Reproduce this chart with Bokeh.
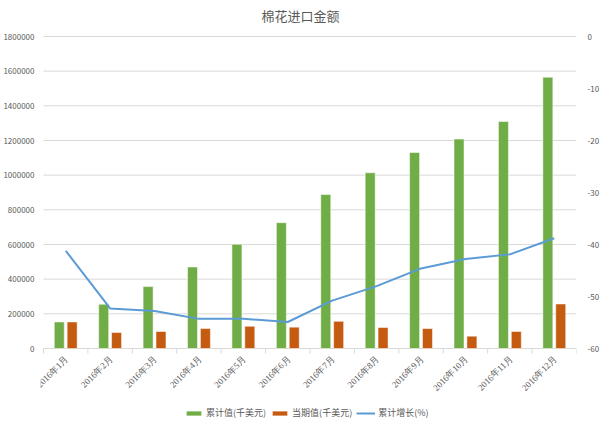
import numpy as np
from bokeh.plotting import figure
from bokeh.models import (Range1d, LinearAxis, FixedTicker, Legend, LegendItem,
                          ColumnDataSource, BasicTickFormatter, LabelSet, Label)
from bokeh.transform import dodge
from bokeh.embed import file_html
from bokeh.resources import INLINE

title = "棉花进口金额"
months = ["2016年1月", "2016年2月", "2016年3月", "2016年4月", "2016年5月", "2016年6月",
          "2016年7月", "2016年8月", "2016年9月", "2016年10月", "2016年11月", "2016年12月"]
cumulative = [153000, 255000, 357000, 470000, 601000, 726000,
              888000, 1014000, 1131000, 1208000, 1310000, 1565000]
current = [153000, 92000, 98000, 115000, 128000, 123000,
           157000, 121000, 115000, 71000, 98000, 257000]
growth = [-41.2, -52.3, -52.8, -54.3, -54.3, -54.9,
          -50.8, -48.0, -44.6, -42.8, -41.9, -38.8]

left_ticks = [0, 200000, 400000, 600000, 800000, 1000000, 1200000, 1400000, 1600000, 1800000]
right_ticks = [0, -10, -20, -30, -40, -50, -60]

FONT = "Noto Sans CJK SC"
GREY = "#595959"
LINE = "#d9d9d9"

# layout (pixels)
LEFT_W = 40           # left axis panel
TOP_H = 36            # room above the value area (title)
PLOT_H = 312          # height of the value area (0 .. 1800000)
BELOW_H = 74          # room below for category labels and legend
PLOT_W = 533          # width of the category area
LEFT_PAD = 3          # extra room left of the category area (first label)
L_MAX, R_MIN, R_MAX = 1800000, -60, 0
upp_left = L_MAX / PLOT_H
upp_right = (R_MAX - R_MIN) / PLOT_H
upp_x = len(months) / PLOT_W

pos = np.arange(len(months)) + 0.5
bounds = np.arange(len(months) + 1)
src = ColumnDataSource(dict(x=pos, cum=cumulative, cur=current, g=growth, m=months,
                            zero=[0] * len(months)))

p = figure(frame_width=PLOT_W + LEFT_PAD, frame_height=TOP_H + PLOT_H + BELOW_H,
           output_backend="svg", toolbar_location=None,
           x_range=Range1d(-LEFT_PAD * upp_x, len(months)),
           y_range=Range1d(-BELOW_H * upp_left, L_MAX + TOP_H * upp_left),
           min_border_left=LEFT_W, min_border_right=24, min_border_top=0, min_border_bottom=0)
p.outline_line_color = None
p.title.visible = False

p.extra_y_ranges = {"pct": Range1d(R_MIN - BELOW_H * upp_right, R_MAX + TOP_H * upp_right)}

# grid lines (also the category base line)
p.segment(x0=0, x1=len(months), y0=left_ticks, y1=left_ticks, line_color=LINE, line_width=1)
# ticks between categories
p.segment(x0=bounds, x1=bounds, y0=0, y1=-5 * upp_left, line_color=LINE, line_width=1)

r1 = p.vbar(x=dodge("x", -0.145), top="cum", width=0.225, source=src,
            fill_color="#70ad47", line_color="white", line_alpha=0.5, line_width=1)
r2 = p.vbar(x=dodge("x", 0.145), top="cur", width=0.225, source=src,
            fill_color="#c55a11", line_color="white", line_alpha=0.5, line_width=1)
r3 = p.line(x="x", y="g", source=src, y_range_name="pct", line_color="#5b9bd5", line_width=2)

labels = LabelSet(x="x", y="zero", text="m", source=src, angle=np.pi / 4,
                  text_align="right", text_baseline="middle", x_offset=1, y_offset=-9,
                  text_font=FONT, text_font_size="9px", text_color=GREY)
p.add_layout(labels)
p.xaxis.visible = False

p.add_layout(Label(x=300 - LEFT_W, y=TOP_H + PLOT_H + BELOW_H - 15, x_units="screen",
                   y_units="screen", text=title, text_align="center", text_baseline="middle",
                   text_font=FONT, text_font_size="13px", text_color=GREY))

# left axis
ya = p.yaxis[0]
ya.ticker = FixedTicker(ticks=left_ticks)
ya.formatter = BasicTickFormatter(use_scientific=False)
ya.axis_line_color = None
ya.major_tick_line_color = None
ya.minor_tick_line_color = None
ya.major_label_text_font = FONT
ya.major_label_text_font_size = "8px"
ya.major_label_text_color = GREY
ya.major_label_standoff = 0

# right axis
ra = LinearAxis(y_range_name="pct", ticker=FixedTicker(ticks=right_ticks))
ra.major_label_overrides = {t: str(t) for t in right_ticks}
ra.axis_line_color = None
ra.major_tick_line_color = None
ra.minor_tick_line_color = None
ra.major_label_text_font = FONT
ra.major_label_text_font_size = "8px"
ra.major_label_text_color = GREY
ra.major_label_standoff = 5
p.add_layout(ra, "right")

p.xgrid.grid_line_color = None
p.ygrid.grid_line_color = None

legend = Legend(items=[LegendItem(label="累计值(千美元)", renderers=[r1]),
                       LegendItem(label="当期值(千美元)", renderers=[r2]),
                       LegendItem(label="累计增长(%)", renderers=[r3])],
                orientation="horizontal", location=(186 - 2 - LEFT_W, 3),
                label_text_font=FONT, label_text_font_size="9px", label_text_color=GREY,
                glyph_width=19, glyph_height=6, label_standoff=3, spacing=4,
                padding=2, margin=0, border_line_color=None, background_fill_alpha=0)
p.add_layout(legend, "center")

open("out.html", "w").write(file_html(p, INLINE))
